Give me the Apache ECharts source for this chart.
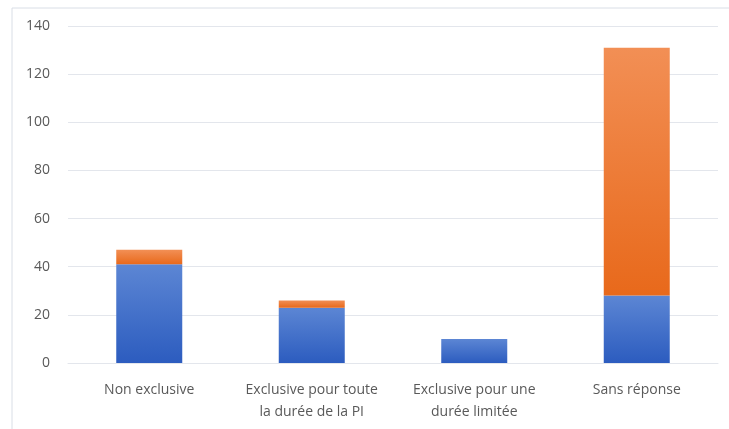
<!DOCTYPE html>
<html>
<head>
<meta charset="utf-8">
<script src="https://cdn.jsdelivr.net/npm/echarts@6/dist/echarts.min.js"></script>
<style>
html,body{margin:0;padding:0;background:#fff;}
#main{width:729px;height:429px;}
</style>
</head>
<body>
<div id="main"></div>
<script>
const categories = ["Non exclusive", "Exclusive pour toute\nla durée de la PI", "Exclusive pour une\ndurée limitée", "Sans réponse"];
const seriesBlue = [41, 23, 10, 28];
const seriesOrange = [6, 3, 0, 103];
const yTicks = { min: 0, max: 140, interval: 20 };

const chart = echarts.init(document.getElementById('main'));
const grad = (top, bottom) => new echarts.graphic.LinearGradient(0, 0, 0, 1, [
  { offset: 0, color: top }, { offset: 1, color: bottom }
]);
const font = '"Open Sans", "Liberation Sans", Arial, sans-serif';
chart.setOption({
  animation: false,
  graphic: [{
    type: 'rect', left: 9.5, top: 5.5, z: -1, silent: true,
    shape: { width: 740, height: 440 },
    style: { fill: 'none', stroke: '#d9dee6', lineWidth: 1 }
  }],
  grid: { left: 68, right: 11, top: 26, bottom: 66 },
  xAxis: {
    type: 'category',
    data: categories,
    axisLine: { show: true, lineStyle: { color: '#e3e6ec', width: 1 } },
    axisTick: { show: false },
    axisLabel: { color: '#595959', fontSize: 14, fontFamily: font, margin: 16, lineHeight: 22, interval: 0 }
  },
  yAxis: {
    type: 'value',
    min: yTicks.min, max: yTicks.max, interval: yTicks.interval,
    axisLine: { show: false },
    axisTick: { show: false },
    splitLine: { lineStyle: { color: '#e3e6ec', width: 1 } },
    axisLabel: { color: '#595959', fontSize: 14, fontFamily: font, margin: 18 }
  },
  series: [
    {
      name: 'Série 1', type: 'bar', stack: 'total', data: seriesBlue, barWidth: 66,
      itemStyle: { color: grad('#5c86d4', '#2c5cbf') }
    },
    {
      name: 'Série 2', type: 'bar', stack: 'total', data: seriesOrange, barWidth: 66,
      itemStyle: { color: grad('#f28f55', '#e8691b') }
    }
  ]
});
</script>
</body>
</html>
